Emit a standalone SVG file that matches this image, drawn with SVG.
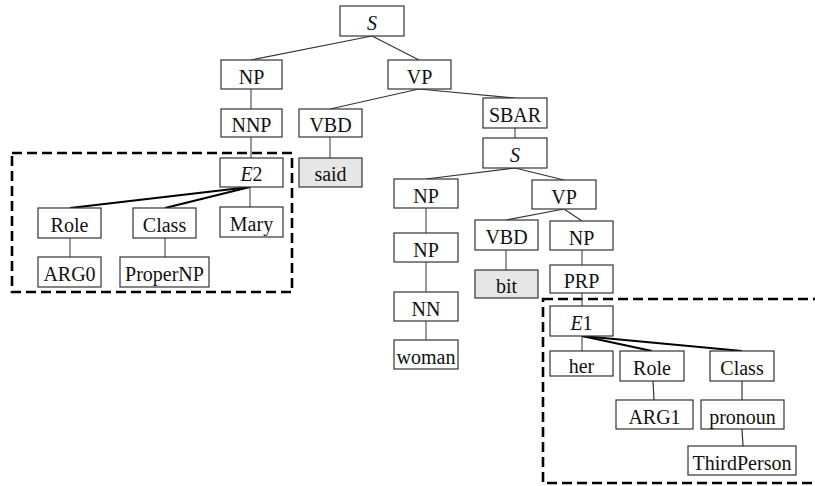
<svg xmlns="http://www.w3.org/2000/svg" width="815" height="486" viewBox="0 0 815 486">
<style>
.n rect{fill:#fff;stroke:#333;stroke-width:1.2}
.n.g rect{fill:#e6e6e6}
.n text{font-family:"Liberation Serif","Times New Roman",serif;font-size:20px;fill:#111;text-anchor:middle}
.it{font-style:italic}
.c line{stroke:#333;stroke-width:1.2}
.c line.v{stroke:#555}
.c line.t{stroke:#000;stroke-width:2.2}
.d{fill:none;stroke:#000;stroke-width:2.6;stroke-dasharray:10,5}
</style>
<rect width="815" height="486" fill="#fff"/>
<rect class="d" x="12" y="153" width="280" height="139"/>
<rect class="d" x="543" y="299" width="290" height="184"/>
<g class="c" id="connectors">
<line x1="372" y1="36" x2="251" y2="60"/>
<line x1="372" y1="36" x2="419" y2="60"/>
<line class="v" x1="251" y1="89" x2="251" y2="109"/>
<line class="v" x1="251" y1="137" x2="251" y2="158"/>
<line x1="419" y1="89" x2="330" y2="109"/>
<line x1="419" y1="89" x2="515" y2="98"/>
<line class="v" x1="330" y1="137" x2="330" y2="158"/>
<line class="v" x1="515" y1="128" x2="515" y2="138"/>
<line x1="515" y1="168" x2="426" y2="179"/>
<line x1="515" y1="168" x2="564" y2="180"/>
<line class="v" x1="426" y1="208" x2="426" y2="233"/>
<line class="v" x1="426" y1="262" x2="426" y2="292"/>
<line class="v" x1="426" y1="321" x2="426" y2="340"/>
<line x1="564" y1="209" x2="506" y2="220"/>
<line x1="564" y1="209" x2="582" y2="221"/>
<line class="v" x1="506" y1="250" x2="506" y2="270"/>
<line class="v" x1="582" y1="250" x2="582" y2="265"/>
<line class="v" x1="582" y1="293" x2="582" y2="306"/>
<line class="v" x1="582" y1="336" x2="582" y2="351"/>
<line class="t" x1="582" y1="336" x2="652" y2="351"/>
<line class="t" x1="582" y1="336" x2="742" y2="351"/>
<line x1="653" y1="381" x2="654" y2="400"/>
<line x1="742" y1="381" x2="742" y2="400"/>
<line x1="742" y1="429" x2="743" y2="446"/>
<line class="t" x1="250" y1="187" x2="70" y2="208"/>
<line class="t" x1="250" y1="187" x2="165" y2="208"/>
<line class="v" x1="250" y1="187" x2="250" y2="207"/>
<line class="v" x1="70" y1="238" x2="70" y2="257"/>
<line class="v" x1="165" y1="238" x2="165" y2="257"/>
</g>
<g class="n" id="S1"><rect x="340" y="6" width="64" height="30"/><text x="372" y="30" class="it">S</text></g>
<g class="n" id="NP1"><rect x="221" y="60" width="61" height="29"/><text x="251.5" y="84">NP</text></g>
<g class="n" id="VP1"><rect x="388" y="60" width="63" height="29"/><text x="419.5" y="84">VP</text></g>
<g class="n" id="NNP"><rect x="221" y="109" width="61" height="28"/><text x="251.5" y="132">NNP</text></g>
<g class="n" id="VBD1"><rect x="299" y="109" width="63" height="28"/><text x="330.5" y="132">VBD</text></g>
<g class="n" id="SBAR"><rect x="483" y="98" width="64" height="30"/><text x="515" y="122">SBAR</text></g>
<g class="n" id="S2"><rect x="483" y="138" width="64" height="30"/><text x="515" y="162" class="it">S</text></g>
<g class="n g" id="said"><rect x="299" y="158" width="63" height="29"/><text x="330.5" y="181">said</text></g>
<g class="n" id="E2"><rect x="220" y="158" width="63" height="29"/><text x="251.5" y="181"><tspan class="it">E</tspan>2</text></g>
<g class="n" id="Role0"><rect x="38" y="208" width="63" height="30"/><text x="69.5" y="232">Role</text></g>
<g class="n" id="Class0"><rect x="133" y="208" width="63" height="30"/><text x="164.5" y="232">Class</text></g>
<g class="n" id="Mary"><rect x="220" y="207" width="63" height="30"/><text x="251.5" y="231">Mary</text></g>
<g class="n" id="ARG0"><rect x="38" y="257" width="63" height="30"/><text x="69.5" y="281">ARG0</text></g>
<g class="n" id="ProperNP"><rect x="120" y="257" width="89" height="30"/><text x="164.5" y="281">ProperNP</text></g>
<g class="n" id="NPa"><rect x="394" y="179" width="64" height="29"/><text x="426" y="202.5">NP</text></g>
<g class="n" id="VP2"><rect x="532" y="180" width="64" height="29"/><text x="564" y="203.5">VP</text></g>
<g class="n" id="NPb"><rect x="394" y="233" width="64" height="29"/><text x="426" y="256.5">NP</text></g>
<g class="n" id="VBD2"><rect x="475" y="220" width="63" height="30"/><text x="506.5" y="244">VBD</text></g>
<g class="n" id="NPc"><rect x="550" y="221" width="63" height="29"/><text x="581.5" y="244.5">NP</text></g>
<g class="n g" id="bit"><rect x="475" y="270" width="63" height="28"/><text x="506.5" y="293">bit</text></g>
<g class="n" id="PRP"><rect x="550" y="265" width="63" height="28"/><text x="581.5" y="288">PRP</text></g>
<g class="n" id="NN"><rect x="394" y="292" width="64" height="29"/><text x="426" y="315.5">NN</text></g>
<g class="n" id="woman"><rect x="394" y="340" width="64" height="29"/><text x="426" y="363.5">woman</text></g>
<g class="n" id="E1"><rect x="550" y="306" width="63" height="30"/><text x="581.5" y="330"><tspan class="it">E</tspan>1</text></g>
<g class="n" id="her"><rect x="550" y="351" width="63" height="25"/><text x="581.5" y="372.5">her</text></g>
<g class="n" id="Role1"><rect x="620" y="351" width="64" height="30"/><text x="652" y="375">Role</text></g>
<g class="n" id="Class1"><rect x="710" y="351" width="64" height="30"/><text x="742" y="375">Class</text></g>
<g class="n" id="ARG1"><rect x="616" y="400" width="77" height="29"/><text x="654.5" y="423.5">ARG1</text></g>
<g class="n" id="pronoun"><rect x="701" y="400" width="83" height="29"/><text x="742.5" y="423.5">pronoun</text></g>
<g class="n" id="ThirdPerson"><rect x="688" y="446" width="108" height="29"/><text x="742" y="469.5">ThirdPerson</text></g>
</svg>
